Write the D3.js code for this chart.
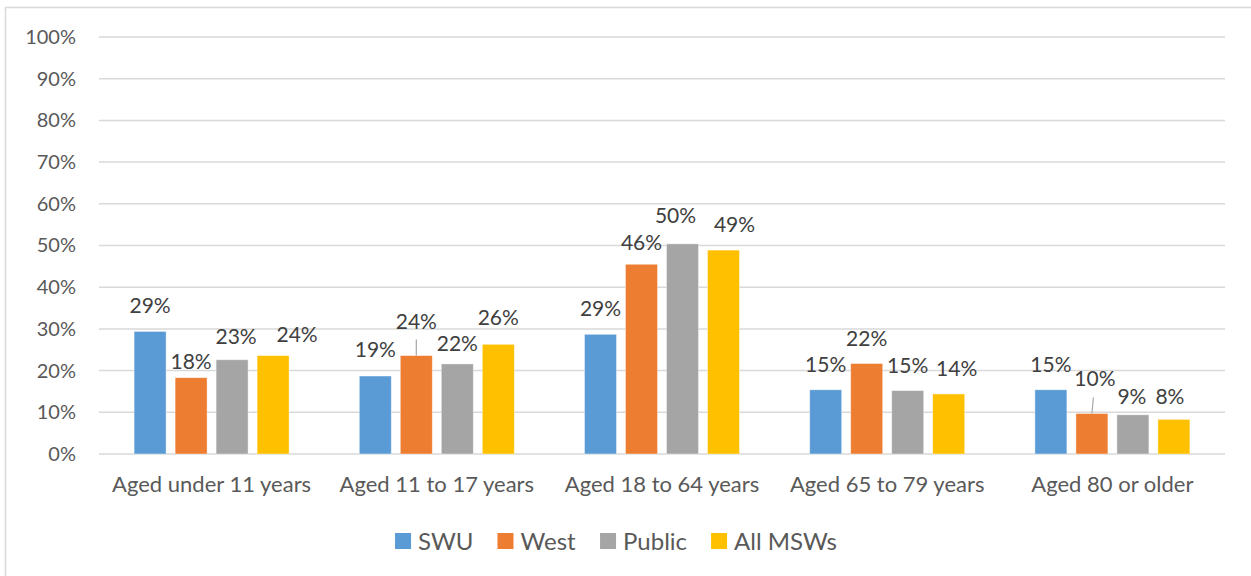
<!DOCTYPE html>
<html>
<head>
<meta charset="utf-8">
<script src="https://cdn.jsdelivr.net/npm/d3@7"></script>
<style>
  html, body { margin: 0; padding: 0; background: #fff; }
  svg { display: block; font-family: Lato, "Open Sans", sans-serif; }
</style>
</head>
<body>
<svg id="chart" width="1251" height="576"></svg>
<script>
// ---- data ----
const categories = ["Aged under 11 years", "Aged 11 to 17 years", "Aged 18 to 64 years", "Aged 65 to 79 years", "Aged 80 or older"];
const seriesNames = ["SWU", "West", "Public", "All MSWs"];
const swu    = [0.294, 0.187, 0.287, 0.154, 0.154];
const west   = [0.183, 0.236, 0.455, 0.217, 0.097];
const publicS = [0.226, 0.216, 0.504, 0.152, 0.094];
const allMSWs = [0.236, 0.263, 0.489, 0.144, 0.083];
const yTicks = [0, 0.1, 0.2, 0.3, 0.4, 0.5, 0.6, 0.7, 0.8, 0.9, 1.0];
const colors = ["#5B9BD5", "#ED7D31", "#A5A5A5", "#FFC000"];
// manual label nudges (dx, dy) per series, per category, like Excel's moved labels
const labelNudge = [
  [[0,0],[0,-1],[0,0],[0,0],[0,0]],
  [[0,9],[0,-9],[0,4],[0,0],[3,-10]],
  [[4,2],[0,5],[-7,-3],[0,0],[-1,7]],
  [[24,4],[0,-1],[11,0],[8,0],[-4,3]]
];
const leaderLines = [[1,1],[1,4]]; // [seriesIndex, categoryIndex]

const values = [swu, west, publicS, allMSWs];

const svg = d3.select("#chart");

// chart frame
svg.append("rect")
  .attr("x", 5.5).attr("y", 7.5)
  .attr("width", 1300).attr("height", 620)
  .attr("fill", "#fff").attr("stroke", "#d9d9d9").attr("stroke-width", 1.5);

const plot = { left: 99, right: 1225, top: 37, bottom: 454 };

const x0 = d3.scaleBand().domain(categories).range([plot.left, plot.right]).padding(0);
const x1 = d3.scaleBand().domain(seriesNames).range([-82, 82]).paddingInner(0.22).paddingOuter(0.11);
const y = d3.scaleLinear().domain([0, 1]).range([plot.bottom, plot.top]);

// gridlines
svg.append("g")
  .selectAll("line")
  .data(yTicks)
  .join("line")
  .attr("x1", plot.left).attr("x2", plot.right)
  .attr("y1", d => y(d)).attr("y2", d => y(d))
  .attr("stroke", "#d9d9d9").attr("stroke-width", 1.5);

// y-axis labels
const yAxis = d3.axisLeft(y).tickValues(yTicks).tickFormat(d3.format(".0%")).tickSize(0).tickPadding(0);
const yg = svg.append("g").attr("transform", "translate(76,0)").call(yAxis);
yg.select(".domain").remove();
yg.selectAll("text")
  .attr("fill", "#595959")
  .style("font-size", "20px")
  .style("font-family", "Lato, sans-serif");

// bars
const groups = svg.append("g").selectAll("g")
  .data(categories)
  .join("g")
  .attr("transform", d => `translate(${x0(d) + x0.bandwidth() / 2},0)`);

groups.selectAll("rect")
  .data((c, ci) => seriesNames.map((s, si) => ({ s, si, ci, v: values[si][ci] })))
  .join("rect")
  .attr("x", d => x1(d.s))
  .attr("width", x1.bandwidth())
  .attr("y", d => y(d.v))
  .attr("height", d => y(0) - y(d.v))
  .attr("fill", d => colors[d.si])
  .attr("stroke", "#ffffff").attr("stroke-opacity", 0.5).attr("stroke-width", 0.8);

// leader lines
groups.selectAll("line.leader")
  .data((c, ci) => leaderLines.filter(l => l[1] === ci).map(l => ({ si: l[0], ci, v: values[l[0]][ci] })))
  .join("line")
  .attr("class", "leader")
  .attr("x1", d => x1(seriesNames[d.si]) + x1.bandwidth() / 2 + (d.ci === 4 ? 1.5 : 0))
  .attr("x2", d => x1(seriesNames[d.si]) + x1.bandwidth() / 2)
  .attr("y1", d => y(d.v) - 16)
  .attr("y2", d => y(d.v))
  .attr("stroke", "#a6a6a6").attr("stroke-width", 1.2);

// data labels
groups.selectAll("text.lbl")
  .data((c, ci) => seriesNames.map((s, si) => ({ s, si, ci, v: values[si][ci] })))
  .join("text")
  .attr("class", "lbl")
  .attr("x", d => x1(d.s) + x1.bandwidth() / 2 + labelNudge[d.si][d.ci][0])
  .attr("y", d => y(d.v) - 18 + labelNudge[d.si][d.ci][1])
  .attr("text-anchor", "middle")
  .attr("fill", "#404040")
  .style("font-size", "21px")
  .text(d => d3.format(".0%")(d.v));

// x-axis category labels
svg.append("g").selectAll("text")
  .data(categories)
  .join("text")
  .attr("x", d => x0(d) + x0.bandwidth() / 2)
  .attr("y", 492)
  .attr("text-anchor", "middle")
  .attr("fill", "#595959")
  .style("font-size", "22px")
  .text(d => d);

// legend
const legend = svg.append("g");
const items = legend.selectAll("g").data(seriesNames).join("g");
items.append("rect")
  .attr("width", 16).attr("height", 16)
  .attr("y", 533)
  .attr("fill", (d, i) => colors[i]);
items.append("text")
  .attr("x", 23).attr("y", 550)
  .attr("fill", "#595959")
  .style("font-size", "24px")
  .text(d => d);
// layout legend items centered
let widths = [];
items.each(function() { widths.push(this.getBBox().width); });
const gap = 24;
const total = d3.sum(widths) + gap * (widths.length - 1);
let cx = 616 - total / 2;
items.attr("transform", (d, i) => { const t = `translate(${cx},0)`; cx += widths[i] + gap; return t; });
</script>
</body>
</html>
